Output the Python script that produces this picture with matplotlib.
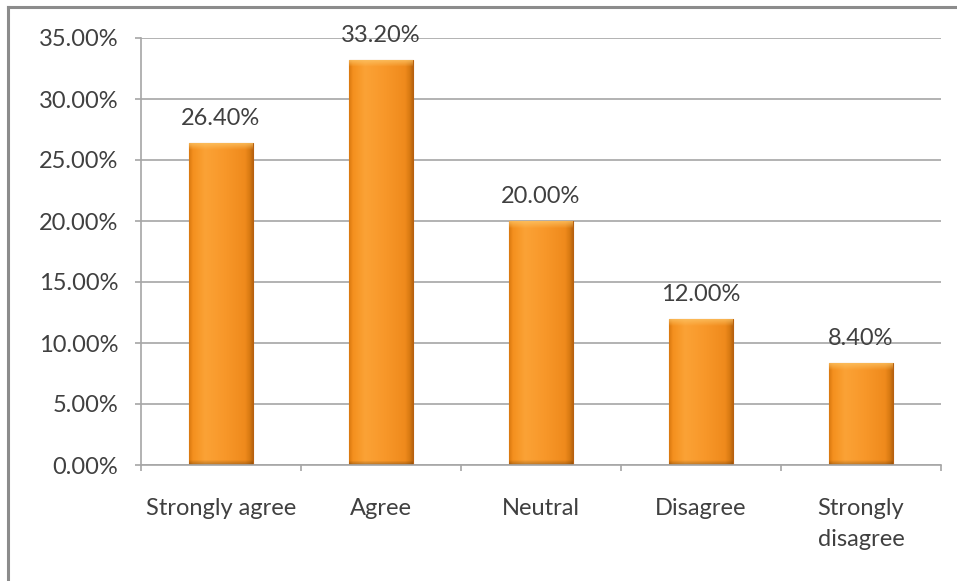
import numpy as np
import matplotlib
matplotlib.use("Agg")
import matplotlib.pyplot as plt
from matplotlib.colors import to_rgb
from matplotlib.lines import Line2D

categories = ["Strongly agree", "Agree", "Neutral", "Disagree", "Strongly\ndisagree"]
values = [26.40, 33.20, 20.00, 12.00, 8.40]
yticks = [0, 5, 10, 15, 20, 25, 30, 35]

plt.rcParams["font.family"] = ["Lato", "DejaVu Sans"]
TEXT = "#404040"
GRID = "#a6a6a6"
FS = 17

fig = plt.figure(figsize=(9.57, 5.81), dpi=100)
ax = fig.add_axes([141 / 957, 1 - 465 / 581, 800 / 957, 427 / 581])

x = np.arange(len(categories))
bars = ax.bar(x, values, width=0.4, color="#f7941d", edgecolor="#b8600e",
              linewidth=0.8, zorder=2)


def bar_texture(nx=200, ny=400):
    # horizontal cylinder-like shading
    u = np.linspace(0, 1, nx)
    stops = [(0.0, "#d9780f"), (0.06, "#f4901e"), (0.25, "#fba236"),
             (0.55, "#f8982a"), (0.88, "#ef8a1c"), (0.95, "#d97a12"),
             (1.0, "#b86410")]
    pos = [s[0] for s in stops]
    cols = np.array([to_rgb(s[1]) for s in stops])
    row = np.stack([np.interp(u, pos, cols[:, k]) for k in range(3)], axis=-1)
    return np.repeat(row[None, :, :], ny, axis=0)


tex = bar_texture()
for b in bars:
    x0, y0 = b.get_x(), b.get_y()
    w, h = b.get_width(), b.get_height()
    img = tex.copy()
    ny = img.shape[0]
    # bevel: light band along the top edge, fixed height in pixels
    bar_px = h / 35.0 * 427
    nb = max(2, int(ny * 8 / bar_px))
    top = np.array(to_rgb("#fcc466"))
    for i in range(nb):
        t = 1 - i / nb
        img[ny - 1 - i] = img[ny - 1 - i] * (1 - 0.85 * t) + top * 0.85 * t
    # slightly darker toward the base
    nbot = max(2, int(ny * 5 / bar_px))
    for i in range(nbot):
        t = 1 - i / nbot
        img[i] = img[i] * (1 - 0.25 * t)
    im = ax.imshow(img, extent=[x0, x0 + w, y0, y0 + h], origin="lower",
                   aspect="auto", zorder=2.5, interpolation="bilinear")
    im.set_clip_path(b)

for xi, v in zip(x, values):
    ax.annotate(f"{v:.2f}%", (xi, v), xytext=(0, 10), textcoords="offset points",
                ha="center", va="bottom", fontsize=FS, color=TEXT)

ax.set_xlim(-0.5, len(categories) - 0.5)
ax.set_ylim(0, 35)
ax.set_yticks(yticks)
ax.set_yticklabels([f"{t:.2f}%" for t in yticks])
ax.set_xticks(x)
ax.set_xticklabels(categories)
ax.set_xticks(np.arange(len(categories) + 1) - 0.5, minor=True)

ax.tick_params(axis="y", length=4.5, width=1.2, color=GRID, pad=12,
               labelsize=FS, labelcolor=TEXT)
ax.tick_params(axis="x", which="major", length=0, pad=24, labelsize=FS,
               labelcolor=TEXT)
ax.tick_params(axis="x", which="minor", length=4.5, width=1.2, color=GRID)
for lbl in ax.get_xticklabels():
    lbl.set_va("top")
    lbl.set_linespacing(1.55)

ax.yaxis.grid(True, color=GRID, linewidth=1.2, zorder=0)
ax.set_axisbelow(True)
for s in ["top", "right"]:
    ax.spines[s].set_visible(False)
for s in ["left", "bottom"]:
    ax.spines[s].set_color(GRID)
    ax.spines[s].set_linewidth(1.2)

# outer chart frame (top and left edges)
fy = 1 - 7 / 581
fx = 8 / 957
fig.add_artist(Line2D([fx, 1.0], [fy, fy], transform=fig.transFigure,
                      color="#8c8c8c", linewidth=2.2))
fig.add_artist(Line2D([fx, fx], [0, fy], transform=fig.transFigure,
                      color="#8c8c8c", linewidth=2.2))

fig.savefig("out.png", dpi=100, facecolor="white")
